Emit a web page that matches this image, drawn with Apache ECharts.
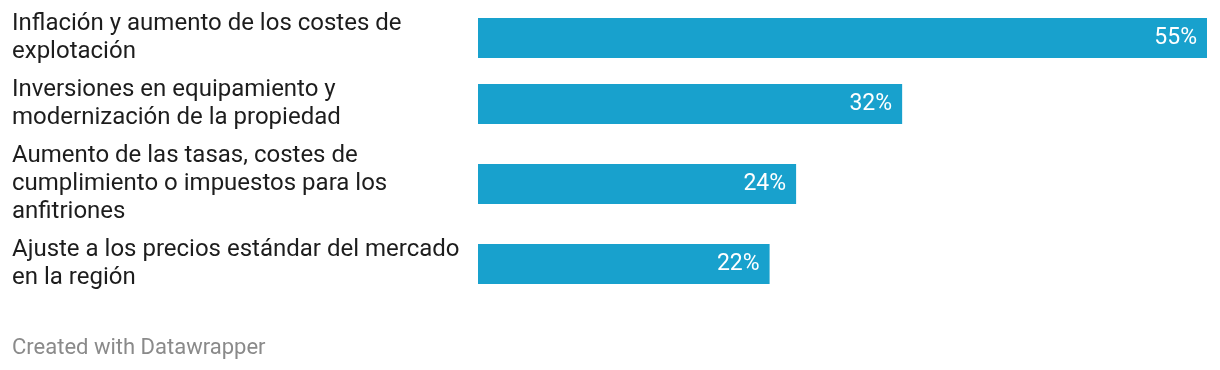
<!DOCTYPE html>
<html>
<head>
<meta charset="utf-8">
<script src="https://cdn.jsdelivr.net/npm/echarts@6/dist/echarts.min.js"></script>
<style>
html,body{margin:0;padding:0;background:#fff;}
#c{width:1220px;height:370px;}
</style>
</head>
<body>
<div id="c"></div>
<script>
const categories = [
  "Inflación y aumento de los costes de\nexplotación",
  "Inversiones en equipamiento y\nmodernización de la propiedad",
  "Aumento de las tasas, costes de\ncumplimiento o impuestos para los\nanfitriones",
  "Ajuste a los precios estándar del mercado\nen la región"
];
const values = [55, 32, 24, 22];
const footer = "Created with Datawrapper";

const rowTops = [18, 84, 164, 244];
const barH = 40;
const font = 'Roboto';

const grids = [], xAxes = [], yAxes = [], series = [];
categories.forEach((cat, i) => {
  grids.push({left: 478, right: 13, top: rowTops[i], height: barH});
  xAxes.push({type: 'value', gridIndex: i, min: 0, max: 55, show: false});
  yAxes.push({
    type: 'category', gridIndex: i, data: [cat],
    axisLine: {show: false}, axisTick: {show: false},
    axisLabel: {align: 'left', margin: 466, color: '#1d1d1d', fontSize: 24,
      lineHeight: 28, fontFamily: font, padding: [2, 0, 0, 0]}
  });
  series.push({
    type: 'bar', xAxisIndex: i, yAxisIndex: i, data: [values[i]], barWidth: barH,
    itemStyle: {color: '#18a1cd'}, silent: true,
    label: {show: true, position: 'insideRight', distance: 10, color: '#fff',
      fontSize: 23, fontFamily: font, formatter: p => p.value + '%'}
  });
});

const chart = echarts.init(document.getElementById('c'));
chart.setOption({
  animation: false,
  grid: grids, xAxis: xAxes, yAxis: yAxes, series: series,
  graphic: [{type: 'text', left: 12, top: 337,
    style: {text: footer, fill: '#8a8a8a', fontSize: 22, fontFamily: font}}]
});
</script>
</body>
</html>
